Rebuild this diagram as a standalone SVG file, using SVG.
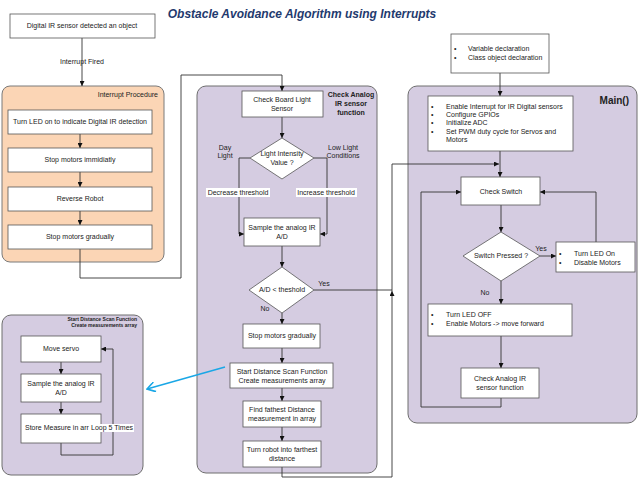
<svg xmlns="http://www.w3.org/2000/svg" width="640" height="480" viewBox="0 0 640 480">
<defs>
<style>
text{font-family:"Liberation Sans",Arial,sans-serif;font-size:7px;fill:#222}
.c{text-anchor:middle}
.b{font-weight:bold}
.box{fill:#fff;stroke:#555;stroke-width:0.8}
.orange{fill:#fbd5b5;stroke:#7a7a7a;stroke-width:1}
.purple{fill:#d5cce1;stroke:#6e6e6e;stroke-width:1}
.ln{fill:none;stroke:#333;stroke-width:0.9}
.lbl{fill:#fff}
</style>
<marker id="ah" viewBox="0 0 10 10" refX="10" refY="5" markerWidth="5" markerHeight="5" orient="auto" markerUnits="userSpaceOnUse">
<path d="M0,0 L10,5 L0,10 z" fill="#111"/>
</marker>
<marker id="oh" viewBox="0 0 10 10" refX="9" refY="5" markerWidth="10" markerHeight="10" orient="auto" markerUnits="userSpaceOnUse">
<path d="M1,0 L9,5 L1,10" fill="none" stroke="#1aa7e6" stroke-width="1.6"/>
</marker>
</defs>
<rect width="640" height="480" fill="#fff"/>
<text x="302" y="18" class="c b" style="font-size:12px;font-style:italic;fill:#1f3a6e">Obstacle Avoidance Algorithm using Interrupts</text>

<!-- containers -->
<g id="interrupt-procedure">
<rect x="2" y="86" width="162" height="176" rx="8" class="orange"/>
<text x="158" y="97" text-anchor="end">Interrupt Procedure</text>
</g>
<g id="check-analog-function">
<rect x="197" y="86" width="180" height="387" rx="9" class="purple"/>
<text x="351" y="97" class="c b" style="font-size:7px">Check Analog</text>
<text x="351" y="106" class="c b" style="font-size:7px">IR sensor</text>
<text x="351" y="115" class="c b" style="font-size:7px">function</text>
</g>
<g id="main-container">
<rect x="408" y="86" width="229" height="337" rx="9" class="purple"/>
<text x="629" y="104" text-anchor="end" class="b" style="font-size:10px">Main()</text>
</g>
<g id="distance-scan-container">
<rect x="2" y="315" width="141" height="160" rx="9" class="purple"/>
<text x="137" y="321" text-anchor="end" class="b" style="font-size:5px">Start Distance Scan Function</text>
<text x="137" y="327" text-anchor="end" class="b" style="font-size:5px">Create measurements array</text>
</g>

<!-- connectors -->
<g id="connectors">
<path class="ln" d="M82,38 V86" marker-end="url(#ah)"/>
<path class="ln" d="M80,134 V148" marker-end="url(#ah)"/>
<path class="ln" d="M80,172 V187" marker-end="url(#ah)"/>
<path class="ln" d="M80,211 V225" marker-end="url(#ah)"/>
<path class="ln" d="M80,249 V278 H181 V75 H282 V91" marker-end="url(#ah)"/>
<path class="ln" d="M282,117 V138" marker-end="url(#ah)"/>
<path class="ln" d="M250,158 H239 V234 H244" marker-end="url(#ah)"/>
<path class="ln" d="M314,158 H327 V234 H320" marker-end="url(#ah)"/>
<path class="ln" d="M282,246 V267" marker-end="url(#ah)"/>
<path class="ln" d="M314,290 H392"/>
<path class="ln" d="M282,313 V324" marker-end="url(#ah)"/>
<path class="ln" d="M282,348 V363" marker-end="url(#ah)"/>
<path class="ln" d="M282,388 V401" marker-end="url(#ah)"/>
<path class="ln" d="M282,427 V441" marker-end="url(#ah)"/>
<path class="ln" d="M282,467 V477 H392 V291" marker-end="url(#ah)"/>
<path class="ln" d="M392,291 V164 H499" marker-end="url(#ah)"/>
<path class="ln" d="M500,73 V96" marker-end="url(#ah)"/>
<path class="ln" d="M500,151 V177" marker-end="url(#ah)"/>
<path class="ln" d="M501,205 V232" marker-end="url(#ah)"/>
<path class="ln" d="M540,256 H556" marker-end="url(#ah)"/>
<path class="ln" d="M596,242 V192 H540" marker-end="url(#ah)"/>
<path class="ln" d="M501,281 V304" marker-end="url(#ah)"/>
<path class="ln" d="M501,336 V368" marker-end="url(#ah)"/>
<path class="ln" d="M501,398 V407 H421 V192 H461" marker-end="url(#ah)"/>
<path class="ln" d="M61,362 V374" marker-end="url(#ah)"/>
<path class="ln" d="M61,402 V414" marker-end="url(#ah)"/>
<path class="ln" d="M61,443 V455 H113 V349 H101" marker-end="url(#ah)"/>
<path d="M225,367 L147,389" fill="none" stroke="#1aa7e6" stroke-width="1.6" marker-end="url(#oh)"/>
<text x="82" y="64" class="c">Interrupt Fired</text>
<rect x="206" y="188" width="64" height="9" class="lbl"/>
<text x="238" y="195" class="c">Decrease threshold</text>
<rect x="296" y="188" width="61" height="9" class="lbl"/>
<text x="326" y="195" class="c">Increase threshold</text>
<text x="225" y="150" class="c">Day</text>
<text x="225" y="158" class="c">Light</text>
<text x="343" y="150" class="c">Low Light</text>
<text x="343" y="158" class="c">Conditions</text>
<text x="324" y="286" class="c">Yes</text>
<text x="265" y="311" class="c">No</text>
<text x="541" y="251" class="c">Yes</text>
<text x="485" y="295" class="c">No</text>
</g>

<!-- nodes -->
<g id="ir-detected">
<rect x="10" y="14" width="145" height="24" class="box"/>
<text x="82" y="28" class="c">Digital IR sensor detected an object</text>
</g>
<g id="turn-led-on-ir">
<rect x="8" y="110" width="144" height="24" class="box"/>
<text x="80" y="124" class="c">Turn LED on to indicate Digital IR detection</text>
</g>
<g id="stop-immediately">
<rect x="8" y="148" width="144" height="24" class="box"/>
<text x="80" y="162" class="c">Stop motors immidiatly</text>
</g>
<g id="reverse-robot">
<rect x="8" y="187" width="144" height="24" class="box"/>
<text x="80" y="201" class="c">Reverse Robot</text>
</g>
<g id="stop-gradually-1">
<rect x="8" y="225" width="144" height="24" class="box"/>
<text x="80" y="239" class="c">Stop motors gradually</text>
</g>

<g id="check-light">
<rect x="242" y="91" width="81" height="26" class="box"/>
<text x="282" y="102" class="c">Check Board Light</text>
<text x="282" y="111" class="c">Sensor</text>
</g>
<g id="light-intensity">
<polygon points="282,138 314,158 282,179 250,158" class="box"/>
<text x="282" y="156" class="c">Light Intensity</text>
<text x="282" y="165" class="c">Value ?</text>
</g>
<g id="sample-analog">
<rect x="244" y="218" width="76" height="28" class="box"/>
<text x="282" y="230" class="c">Sample the analog IR</text>
<text x="282" y="239" class="c">A/D</text>
</g>
<g id="ad-threshold">
<polygon points="282,267 314,290 282,313 249,290" class="box"/>
<text x="282" y="292" class="c">A/D &lt; theshold</text>
</g>
<g id="stop-gradually-2">
<rect x="243" y="324" width="77" height="24" class="box"/>
<text x="282" y="338" class="c">Stop motors gradually</text>
</g>
<g id="start-scan">
<rect x="230" y="363" width="103" height="25" class="box"/>
<text x="282" y="374" class="c">Start Distance Scan Function</text>
<text x="282" y="383" class="c">Create measurements array</text>
</g>
<g id="find-farthest">
<rect x="243" y="401" width="78" height="26" class="box"/>
<text x="282" y="412" class="c">Find fathest Distance</text>
<text x="282" y="421" class="c">measurement in array</text>
</g>
<g id="turn-robot">
<rect x="243" y="441" width="78" height="26" class="box"/>
<text x="282" y="452" class="c">Turn robot into farthest</text>
<text x="282" y="461" class="c">distance</text>
</g>

<g id="declarations">
<rect x="451" y="34" width="98" height="39" class="box"/>
<text x="454" y="51">•</text><text x="468" y="51">Variable declaration</text>
<text x="454" y="60">•</text><text x="468" y="60">Class object declaration</text>
</g>
<g id="init">
<rect x="428" y="96" width="145" height="55" class="box"/>
<text x="431" y="109">•</text><text x="446" y="109">Enable Interrupt for IR Digital sensors</text>
<text x="431" y="117">•</text><text x="446" y="117">Configure GPIOs</text>
<text x="431" y="125">•</text><text x="446" y="125">Initialize ADC</text>
<text x="431" y="134">•</text><text x="446" y="134">Set PWM duty cycle for Servos and</text>
<text x="446" y="142">Motors</text>
</g>
<g id="check-switch">
<rect x="461" y="177" width="79" height="28" class="box"/>
<text x="501" y="194" class="c">Check Switch</text>
</g>
<g id="switch-pressed">
<polygon points="501,232 540,256 501,281 463,256" class="box"/>
<text x="501" y="258" class="c">Switch Pressed ?</text>
</g>
<g id="led-on-disable">
<rect x="556" y="242" width="79" height="30" class="box"/>
<text x="559" y="256">•</text><text x="574" y="256">Turn LED On</text>
<text x="559" y="265">•</text><text x="574" y="265">Disable Motors</text>
</g>
<g id="led-off-enable">
<rect x="428" y="304" width="144" height="32" class="box"/>
<text x="431" y="317">•</text><text x="446" y="317">Turn LED OFF</text>
<text x="431" y="326">•</text><text x="446" y="326">Enable Motors -&gt; move forward</text>
</g>
<g id="call-check-analog">
<rect x="461" y="368" width="78" height="30" class="box"/>
<text x="500" y="381" class="c">Check Analog IR</text>
<text x="500" y="390" class="c">sensor function</text>
</g>

<g id="move-servo">
<rect x="21" y="336" width="80" height="26" class="box"/>
<text x="61" y="351" class="c">Move servo</text>
</g>
<g id="sample-analog-2">
<rect x="21" y="374" width="80" height="28" class="box"/>
<text x="61" y="386" class="c">Sample the analog IR</text>
<text x="61" y="395" class="c">A/D</text>
</g>
<g id="store-measure">
<rect x="21" y="414" width="80" height="29" class="box"/>
<text x="25" y="430">Store Measure in arr</text>
<rect x="90" y="424" width="44" height="8" class="lbl"/>
<text x="91" y="430">Loop 5 Times</text>
</g>
</svg>
